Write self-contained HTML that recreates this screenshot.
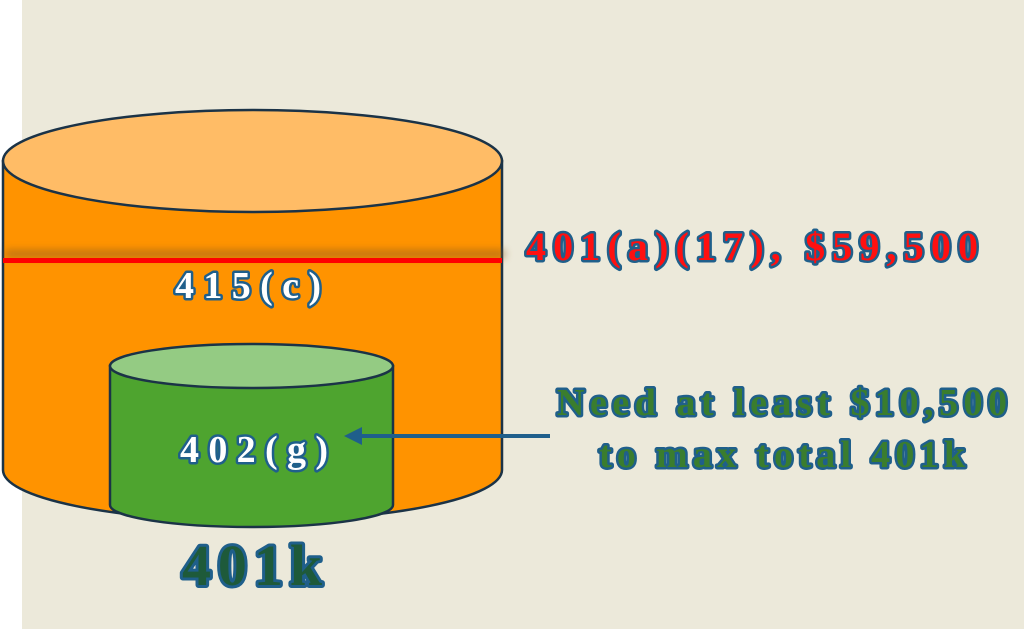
<!DOCTYPE html>
<html><head><meta charset="utf-8"><style>
html,body{margin:0;padding:0;width:1024px;height:629px;overflow:hidden;background:#fff}
svg{display:block}
text{font-family:"Liberation Serif",serif;font-weight:bold;paint-order:stroke;stroke-linejoin:round}
</style></head><body>
<svg width="1024" height="629" viewBox="0 0 1024 629">
<defs>
<filter id="sh" x="-10%" y="-200%" width="120%" height="500%"><feGaussianBlur stdDeviation="4"/></filter>
</defs>
<rect x="22" y="0" width="1002" height="629" fill="#ECE9DA"/>
<path d="M3 161 L3 470 A249.5 51 0 0 0 502 470 L502 161 Z" fill="#FF9300" stroke="#1B3347" stroke-width="2.5"/>
<ellipse cx="252.5" cy="161" rx="249.5" ry="51" fill="#FFBC66" stroke="#1B3347" stroke-width="2.5"/>
<rect x="5" y="250" width="500" height="8" fill="#8a5a20" opacity="0.55" filter="url(#sh)"/>
<rect x="3" y="258" width="499" height="5" fill="#FF0000"/>
<text x="248" y="298" font-size="38" text-anchor="middle" fill="#fff" stroke="#1F5F8B" stroke-width="5" textLength="146">415(c)</text>
<path d="M110 366 L110 505 A141.5 22 0 0 0 393 505 L393 366 Z" fill="#4EA42F" stroke="#1B3347" stroke-width="2.5"/>
<ellipse cx="251.5" cy="366" rx="141.5" ry="22" fill="#94CB83" stroke="#1B3347" stroke-width="2.5"/>
<text x="254" y="462" font-size="38" text-anchor="middle" fill="#fff" stroke="#1F5F8B" stroke-width="5" textLength="148">402(g)</text>
<line x1="550" y1="436" x2="360" y2="436" stroke="#1F5F8B" stroke-width="4"/>
<polygon points="344,436 362,427 362,445" fill="#1F5F8B"/>
<text x="252" y="585" font-size="58" text-anchor="middle" fill="#1E5A3A" stroke="#1F5F8B" stroke-width="6" textLength="140">401k</text>
<text x="752" y="260" font-size="40" text-anchor="middle" fill="#FF1010" stroke="#1F5F8B" stroke-width="5" textLength="452">401(a)(17), $59,500</text>
<text x="782" y="415" font-size="38" text-anchor="middle" fill="#3A7D2E" stroke="#1F5F8B" stroke-width="5" textLength="450">Need at least $10,500</text>
<text x="782" y="467" font-size="38" text-anchor="middle" fill="#3A7D2E" stroke="#1F5F8B" stroke-width="5" textLength="366">to max total 401k</text>
</svg>
</body></html>
